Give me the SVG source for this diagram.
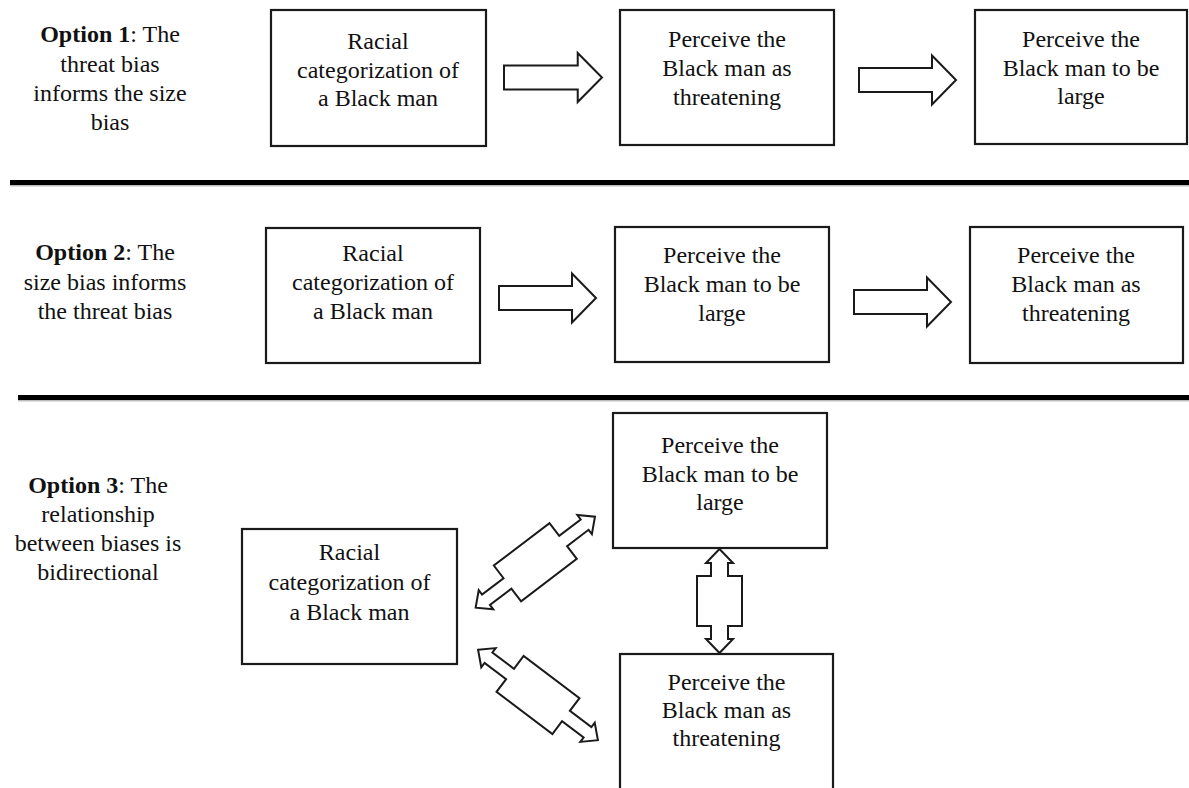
<svg xmlns="http://www.w3.org/2000/svg" xmlns:xlink="http://www.w3.org/1999/xlink" width="1189" height="788" viewBox="0 0 1189 788">
  <style>
    .box { fill: #ffffff; stroke: #1a1a1a; stroke-width: 2.2; }
    .arrow { fill: #ffffff; stroke: #1a1a1a; stroke-width: 2; stroke-linejoin: miter; }
    .sep { fill: #000000; }
    .sep-shadow { fill: #bdbdbd; }
    text { font-family: "Liberation Serif", "Times New Roman", serif; font-size: 24px; fill: #111111; text-anchor: middle; }
    .b { font-weight: bold; }
  </style>
  <defs>
    <path id="block-arrow" d="M0,-12 H73 V-24.5 L97,0 L73,24.5 V12 H0 Z"/>
    <path id="diag-arrow" d="M-75,0 L-62,-12 L-62,-6.5 L-35,-6.5 L-35,-22.5 L35,-22.5 L35,-6.5 L62,-6.5 L62,-12 L75,0 L62,12 L62,6.5 L35,6.5 L35,22.5 L-35,22.5 L-35,6.5 L-62,6.5 L-62,12 Z"/>
    <path id="vert-arrow" d="M0,-52 L13.5,-38 L8.5,-38 L8.5,-25 L22.5,-25 L22.5,25 L8.5,25 L8.5,38 L13.5,38 L0,52 L-13.5,38 L-8.5,38 L-8.5,25 L-22.5,25 L-22.5,-25 L-8.5,-25 L-8.5,-38 L-13.5,-38 Z"/>
  </defs>
  <rect width="1189" height="788" fill="#ffffff"/>

  <!-- separators -->
  <g id="separators">
    <rect class="sep-shadow" x="10" y="185" width="1179" height="1.5"/>
    <rect class="sep" x="10" y="180" width="1179" height="5"/>
    <rect class="sep-shadow" x="18" y="400" width="1171" height="1.5"/>
    <rect class="sep" x="18" y="395" width="1171" height="5"/>
  </g>

  <!-- labels -->
  <g id="label-option1">
    <text x="110" y="42"><tspan class="b">Option 1</tspan>: The</text>
    <text x="110" y="72">threat bias</text>
    <text x="110" y="101">informs the size</text>
    <text x="110" y="130">bias</text>
  </g>
  <g id="label-option2">
    <text x="105" y="260"><tspan class="b">Option 2</tspan>: The</text>
    <text x="105" y="290">size bias informs</text>
    <text x="105" y="319">the threat bias</text>
  </g>
  <g id="label-option3">
    <text x="98" y="493"><tspan class="b">Option 3</tspan>: The</text>
    <text x="98" y="522">relationship</text>
    <text x="98" y="551">between biases is</text>
    <text x="98" y="580">bidirectional</text>
  </g>

  <!-- Row 1 -->
  <g id="r1-racial">
    <rect class="box" x="271" y="10" width="215" height="136"/>
    <text x="378" y="49">Racial</text>
    <text x="378" y="77.5">categorization of</text>
    <text x="378" y="106">a Black man</text>
  </g>
  <g id="r1-threat">
    <rect class="box" x="620" y="10" width="214" height="135"/>
    <text x="727" y="47">Perceive the</text>
    <text x="727" y="76">Black man as</text>
    <text x="727" y="105">threatening</text>
  </g>
  <g id="r1-large">
    <rect class="box" x="975" y="10" width="212" height="134"/>
    <text x="1081" y="47">Perceive the</text>
    <text x="1081" y="76">Black man to be</text>
    <text x="1081" y="104">large</text>
  </g>

  <!-- Row 2 -->
  <g id="r2-racial">
    <rect class="box" x="266" y="228" width="214" height="135"/>
    <text x="373" y="261">Racial</text>
    <text x="373" y="290">categorization of</text>
    <text x="373" y="319">a Black man</text>
  </g>
  <g id="r2-large">
    <rect class="box" x="615" y="227" width="214" height="135"/>
    <text x="722" y="263">Perceive the</text>
    <text x="722" y="292">Black man to be</text>
    <text x="722" y="321">large</text>
  </g>
  <g id="r2-threat">
    <rect class="box" x="970" y="227" width="213" height="136"/>
    <text x="1076" y="263">Perceive the</text>
    <text x="1076" y="292">Black man as</text>
    <text x="1076" y="321">threatening</text>
  </g>

  <!-- Row 3 -->
  <g id="r3-racial">
    <rect class="box" x="242" y="529" width="215" height="135"/>
    <text x="349.5" y="560">Racial</text>
    <text x="349.5" y="590">categorization of</text>
    <text x="349.5" y="620">a Black man</text>
  </g>
  <g id="r3-large">
    <rect class="box" x="613" y="413" width="214" height="135"/>
    <text x="720" y="453">Perceive the</text>
    <text x="720" y="482">Black man to be</text>
    <text x="720" y="510">large</text>
  </g>
  <g id="r3-threat">
    <rect class="box" x="620" y="654" width="213" height="150"/>
    <text x="726.5" y="690">Perceive the</text>
    <text x="726.5" y="718">Black man as</text>
    <text x="726.5" y="746">threatening</text>
  </g>

  <!-- connectors -->
  <g id="connectors">
    <use xlink:href="#block-arrow" class="arrow" transform="translate(504,77.5) scale(1.01,1)"/>
    <use xlink:href="#block-arrow" class="arrow" transform="translate(859,80)"/>
    <use xlink:href="#block-arrow" class="arrow" transform="translate(499,298)"/>
    <use xlink:href="#block-arrow" class="arrow" transform="translate(854,302)"/>
    <use xlink:href="#diag-arrow" class="arrow" transform="translate(535.3,562.2) rotate(-37.3)"/>
    <use xlink:href="#diag-arrow" class="arrow" transform="translate(538,695) rotate(37)"/>
    <use xlink:href="#vert-arrow" class="arrow" transform="translate(719.5,601)"/>
  </g>
</svg>
